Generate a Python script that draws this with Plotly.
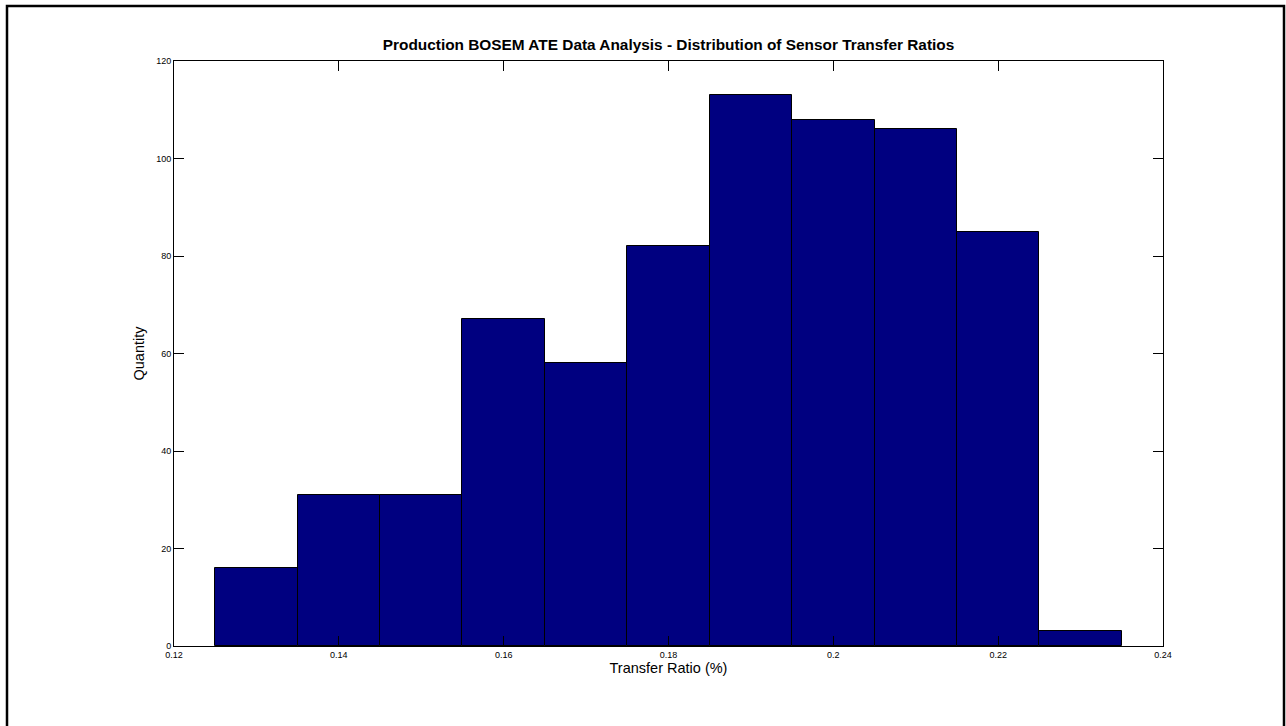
import plotly.graph_objects as go

# Histogram bins of sensor transfer ratio (bin centres, width 0.01)
bin_centers = [0.13, 0.14, 0.15, 0.16, 0.17, 0.18, 0.19, 0.20, 0.21, 0.22, 0.23]
counts = [16, 31, 31, 67, 58, 82, 113, 108, 106, 85, 3]
bin_width = 0.01

x_ticks = [0.12, 0.14, 0.16, 0.18, 0.2, 0.22, 0.24]
x_tick_text = ["0.12", "0.14", "0.16", "0.18", "0.2", "0.22", "0.24"]
y_ticks = [0, 20, 40, 60, 80, 100, 120]

W, H = 1286, 726
L, R, T, B = 174, 123, 61, 80
pw, ph = W - L - R, H - T - B

def px_x(p):
    return (p - L) / pw

def px_y(p):
    return (H - B - p) / ph

font = "Liberation Sans, Arial, sans-serif"

fig = go.Figure(
    go.Bar(
        x=bin_centers,
        y=counts,
        width=bin_width,
        marker=dict(color="#000080", line=dict(color="black", width=1)),
        hoverinfo="x+y",
    )
)

axis_common = dict(
    showgrid=False,
    zeroline=False,
    showline=True,
    linecolor="black",
    linewidth=1,
    mirror="ticks",
    ticks="inside",
    ticklen=10,
    tickwidth=1,
    tickcolor="black",
    tickfont=dict(family=font, size=9, color="black"),
)

fig.update_layout(
    width=W,
    height=H,
    margin=dict(l=L, r=R, t=T, b=B),
    paper_bgcolor="white",
    plot_bgcolor="white",
    showlegend=False,
    bargap=0,
    title=dict(
        text="<b>Production BOSEM ATE Data Analysis - Distribution of Sensor Transfer Ratios</b>",
        x=px_x((L + W - R) / 2),
        xref="paper",
        xanchor="center",
        y=1 - 45 / H,
        yanchor="middle",
        font=dict(family=font, size=15.4, color="black"),
    ),
    xaxis=dict(
        range=[0.12, 0.24],
        tickvals=x_ticks,
        ticktext=x_tick_text,
        title=dict(text="Transfer Ratio (%)", font=dict(family=font, size=14.5, color="black"), standoff=2),
        **axis_common,
    ),
    yaxis=dict(
        range=[0, 120],
        tickvals=y_ticks,
        title=dict(text="Quantity", font=dict(family=font, size=14.5, color="black"), standoff=8),
        **axis_common,
    ),
    shapes=[
        dict(
            type="rect",
            xref="paper",
            yref="paper",
            x0=px_x(7),
            x1=px_x(1284),
            y0=px_y(740),
            y1=px_y(6),
            line=dict(color="black", width=2.5),
            fillcolor="rgba(0,0,0,0)",
            layer="below",
        )
    ],
)

fig.write_html("out.html")
